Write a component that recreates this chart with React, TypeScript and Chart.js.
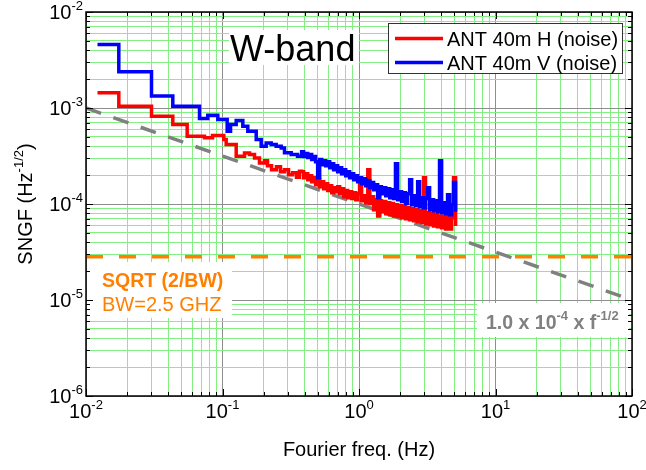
import React, { useEffect, useRef } from 'react';
import { Chart, registerables } from 'chart.js';

Chart.register(...registerables);

const FONT = "'Liberation Sans', Arial, sans-serif";

// ---------- Data ----------
// Low-frequency part, bin start frequencies (Hz) and SNGF values (Hz^-1/2)
const freqLowH = [0.01214, 0.01739, 0.03019, 0.04324, 0.0551, 0.0738, 0.0845, 0.1022, 0.1064, 0.126,
  0.145, 0.1577, 0.1716, 0.1866, 0.2031, 0.2137, 0.2286, 0.2486, 0.266, 0.2846, 0.3045, 0.3257, 0.3484, 0.366];
const sngfLowH = [1.44e-3, 1.04e-3, 8.21e-4, 6.73e-4, 5.08e-4, 4.89e-4, 5.16e-4, 4.69e-4, 4.16e-4, 3.14e-4,
  3.39e-4, 3.27e-4, 3.02e-4, 2.68e-4, 2.83e-4, 2.51e-4, 2.28e-4, 2.45e-4, 2.17e-4, 2.28e-4, 2.02e-4, 2.12e-4, 1.9e-4, 2.19e-4];

const freqLowV = [0.01214, 0.01739, 0.03019, 0.04324, 0.06785, 0.07802, 0.0924, 0.1082, 0.1145, 0.126,
  0.1409, 0.1532, 0.1766, 0.1921, 0.2089, 0.2274, 0.2473, 0.2692, 0.2846, 0.3187, 0.3544];
const sngfLowV = [4.6e-3, 2.39e-3, 1.33e-3, 1.04e-3, 7.77e-4, 8.41e-4, 7.59e-4, 5.73e-4, 6.73e-4, 7.41e-4,
  6.46e-4, 5.73e-4, 4.69e-4, 3.99e-4, 4.33e-4, 4.16e-4, 3.99e-4, 3.84e-4, 3.41e-4, 3.27e-4, 3.14e-4];

// High-frequency (noisy) part, shared frequency list
const freqHigh = [0.38, 0.393, 0.407, 0.421, 0.435, 0.45, 0.465, 0.481, 0.498, 0.515,
  0.533, 0.551, 0.57, 0.59, 0.61, 0.631, 0.652, 0.675, 0.698, 0.722,
  0.746, 0.772, 0.799, 0.826, 0.854, 0.884, 0.914, 0.945, 0.978, 1.01,
  1.045, 1.08, 1.12, 1.16, 1.2, 1.24, 1.28, 1.32, 1.37, 1.42,
  1.46, 1.51, 1.57, 1.62, 1.68, 1.73, 1.79, 1.85, 1.92, 1.98,
  2.05, 2.12, 2.19, 2.27, 2.35, 2.43, 2.51, 2.6, 2.69, 2.78,
  2.87, 2.97, 3.07, 3.18, 3.29, 3.4, 3.52, 3.64, 3.76, 3.89,
  4.03, 4.17, 4.31, 4.46, 4.61, 4.77, 4.93, 5.1];

const sngfHighV = [3.51e-4, 3.12e-4, 3.35e-4, 3.05e-4, 3.27e-4, 2.9e-4, 3.12e-4, 2.76e-4, 1.88e-4, 2.9e-4,
  2.57e-4, 2.83e-4, 2.51e-4, 2.76e-4, 2.39e-4, 2.63e-4, 2.28e-4, 2.51e-4, 2.17e-4, 2.39e-4,
  2.07e-4, 2.28e-4, 1.97e-4, 2.17e-4, 1.88e-4, 2.07e-4, 1.79e-4, 1.97e-4, 1.71e-4, 1.88e-4,
  1.63e-4, 1.83e-4, 1.55e-4, 1.75e-4, 1.48e-4, 1.67e-4, 1.41e-4, 1.59e-4, 1.16e-4, 1.51e-4,
  1.28e-4, 1.48e-4, 1.22e-4, 1.44e-4, 1.16e-4, 1.41e-4, 1.14e-4, 2.63e-4, 1.11e-4, 1.34e-4,
  1.06e-4, 1.31e-4, 1.01e-4, 1.28e-4, 1.79e-4, 9.83e-5, 1.22e-4, 9.6e-5, 1.71e-4, 9.37e-5,
  1.16e-4, 9.15e-5, 1.14e-4, 1.48e-4, 8.72e-5, 1.11e-4, 8.5e-5, 1.08e-4, 8.31e-5, 2.83e-4,
  8.1e-5, 1.03e-4, 7.9e-5, 1.25e-4, 7.73e-5, 9.83e-5, 1.67e-4, 8.31e-5];

const sngfHighH = [2.17e-4, 1.88e-4, 2.07e-4, 1.79e-4, 1.97e-4, 1.71e-4, 1.88e-4, 1.59e-4, 1.79e-4, 1.51e-4,
  1.71e-4, 1.44e-4, 1.63e-4, 1.38e-4, 1.55e-4, 1.31e-4, 1.48e-4, 1.34e-4, 1.51e-4, 1.28e-4,
  1.44e-4, 1.19e-4, 1.38e-4, 1.16e-4, 1.34e-4, 1.14e-4, 1.31e-4, 1.11e-4, 1.28e-4, 1.71e-4,
  1.08e-4, 1.22e-4, 1.03e-4, 2.28e-4, 1.01e-4, 1.19e-4, 8.72e-5, 1.11e-4, 7.5e-5, 1.08e-4,
  8.31e-5, 1.06e-4, 7.9e-5, 1.03e-4, 7.73e-5, 1.01e-4, 7.5e-5, 9.83e-5, 7.4e-5, 9.6e-5,
  7.19e-5, 9.37e-5, 7.0e-5, 9.15e-5, 6.86e-5, 8.9e-5, 6.7e-5, 8.72e-5, 6.53e-5, 8.5e-5,
  6.4e-5, 1.88e-4, 6.2e-5, 8.1e-5, 6.08e-5, 7.9e-5, 5.9e-5, 7.73e-5, 5.8e-5, 7.5e-5,
  5.66e-5, 7.4e-5, 5.5e-5, 1.25e-4, 5.5e-5, 7.19e-5, 1.88e-4, 5.9e-5];

// Reference lines
const fitCoef = 1.0e-4; // 1.0 x 10^-4 x f^-1/2
const fitRange = [0.01, 100];
const bandwidthHz = 2.5e9; // BW = 2.5 GHz
const sqrtLimit = Math.sqrt(2 / bandwidthHz);

// Axes
const xDecades = [0.01, 0.1, 1, 10];
const yDecades = [1e-6, 1e-5, 1e-4, 1e-3];
const mantissas = [1, 2, 3, 4, 5, 6, 7, 8, 9];
const xMax = 100;
const yMax = 1e-2;
const xTickValues = xDecades.flatMap((d) => mantissas.map((m) => m * d)).concat([xMax]);
const yTickValues = yDecades.flatMap((d) => mantissas.map((m) => m * d)).concat([yMax]);

const legendLabels = ['ANT 40m H (noise)', 'ANT 40m V (noise)'];
const seriesColors = ['#FF0000', '#0000FF'];

// ---------- helpers ----------
const isPow10 = (v: number) => {
  const l = Math.log10(v);
  return Math.abs(l - Math.round(l)) < 1e-6;
};

const toPoints = (fs: number[], vs: number[]) => fs.map((f, i) => ({ x: f, y: vs[i] }));

const GRID_MAJOR = '#8e8e8e';
const GRID_MINOR = '#84f084';
const ORANGE = '#FF8000';
const GRAY = '#808080';

type Piece = { t: string; size: number; bold?: boolean; dy?: number };

function drawPieces(ctx: CanvasRenderingContext2D, pieces: Piece[], x: number, y: number, align: 'left' | 'center' | 'right') {
  const widths = pieces.map((p) => {
    ctx.font = `${p.bold ? 'bold ' : ''}${p.size}px ${FONT}`;
    return ctx.measureText(p.t).width;
  });
  const total = widths.reduce((a, b) => a + b, 0);
  let cx = align === 'left' ? x : align === 'center' ? x - total / 2 : x - total;
  ctx.textAlign = 'left';
  ctx.textBaseline = 'alphabetic';
  pieces.forEach((p, i) => {
    ctx.font = `${p.bold ? 'bold ' : ''}${p.size}px ${FONT}`;
    ctx.fillText(p.t, cx, y + (p.dy || 0));
    cx += widths[i];
  });
}

const powPieces = (v: number): Piece[] => [
  { t: '10', size: 20 },
  { t: String(Math.round(Math.log10(v))), size: 13, dy: -9 },
];

const decorPlugin = {
  id: 'decor',
  beforeDatasetsDraw(chart: any) {
    const ctx: CanvasRenderingContext2D = chart.ctx;
    ctx.save();
    ctx.fillStyle = '#ffffff';
    // white backgrounds of text boxes (hide grid)
    ctx.fillRect(229, 30, 130, 35); // W-band
    ctx.fillRect(88, 262, 144, 56); // SQRT label
    ctx.fillRect(477, 303, 152, 34); // fit label
    ctx.restore();
  },
  afterDraw(chart: any) {
    const ctx: CanvasRenderingContext2D = chart.ctx;
    const { left, right, top, bottom } = chart.chartArea;
    const xs = chart.scales.x;
    const ys = chart.scales.y;
    ctx.save();

    // frame
    ctx.strokeStyle = '#000';
    ctx.lineWidth = 1.5;
    ctx.strokeRect(left, top, right - left, bottom - top);

    // inward ticks on all sides
    ctx.lineWidth = 1;
    ctx.beginPath();
    xTickValues.forEach((v) => {
      const px = Math.round(xs.getPixelForValue(v)) + 0.5;
      const len = isPow10(v) ? 7 : 4;
      ctx.moveTo(px, bottom);
      ctx.lineTo(px, bottom - len);
      ctx.moveTo(px, top);
      ctx.lineTo(px, top + len);
    });
    yTickValues.forEach((v) => {
      const py = Math.round(ys.getPixelForValue(v)) + 0.5;
      const len = isPow10(v) ? 7 : 4;
      ctx.moveTo(left, py);
      ctx.lineTo(left + len, py);
      ctx.moveTo(right, py);
      ctx.lineTo(right - len, py);
    });
    ctx.stroke();

    // tick labels
    ctx.fillStyle = '#000';
    xTickValues.filter(isPow10).forEach((v) => {
      drawPieces(ctx, powPieces(v), xs.getPixelForValue(v), bottom + 22, 'center');
    });
    yTickValues.filter(isPow10).forEach((v) => {
      drawPieces(ctx, powPieces(v), left - 3, ys.getPixelForValue(v) + 7, 'right');
    });

    // axis titles
    drawPieces(ctx, [{ t: 'Fourier freq. (Hz)', size: 20 }], (left + right) / 2, 456, 'center');
    ctx.save();
    ctx.translate(32, (top + bottom) / 2);
    ctx.rotate(-Math.PI / 2);
    drawPieces(ctx, [
      { t: 'SNGF (Hz', size: 20 },
      { t: '-1/2', size: 13, dy: -9 },
      { t: ')', size: 20 },
    ], 0, 0, 'center');
    ctx.restore();

    // W-band label
    ctx.fillStyle = '#000';
    drawPieces(ctx, [{ t: 'W-band', size: 36 }], 230, 61, 'left');

    // legend
    ctx.fillStyle = '#fff';
    ctx.fillRect(388, 23, 235, 51);
    ctx.strokeStyle = '#333';
    ctx.lineWidth = 1;
    ctx.strokeRect(388.5, 23.5, 234, 50);
    legendLabels.forEach((lab, i) => {
      const ly = 38.5 + i * 24;
      ctx.strokeStyle = seriesColors[i];
      ctx.lineWidth = 3.5;
      ctx.beginPath();
      ctx.moveTo(395, ly);
      ctx.lineTo(443, ly);
      ctx.stroke();
      ctx.fillStyle = '#000';
      drawPieces(ctx, [{ t: lab, size: 20 }], 447, 46 + i * 24, 'left');
    });

    // SQRT label
    ctx.fillStyle = ORANGE;
    drawPieces(ctx, [{ t: 'SQRT (2/BW)', size: 19.5, bold: true }], 102, 287, 'left');
    drawPieces(ctx, [{ t: 'BW=2.5 GHZ', size: 20 }], 102, 311, 'left');

    // fit label
    ctx.fillStyle = GRAY;
    drawPieces(ctx, [
      { t: '1.0 x 10', size: 19.5, bold: true },
      { t: '-4', size: 13, bold: true, dy: -9 },
      { t: ' x f', size: 19.5, bold: true },
      { t: '-1/2', size: 13, bold: true, dy: -9 },
    ], 486, 329, 'left');

    ctx.restore();
  },
};

const gridColor = (c: any) => (c.tick && isPow10(c.tick.value) ? GRID_MAJOR : GRID_MINOR);

export default function App() {
  const ref = useRef<HTMLCanvasElement | null>(null);

  useEffect(() => {
    if (!ref.current) return;
    const pointsH = toPoints(freqLowH.concat(freqHigh), sngfLowH.concat(sngfHighH));
    const pointsV = toPoints(freqLowV.concat(freqHigh), sngfLowV.concat(sngfHighV));
    const fitPts = fitRange.map((f) => ({ x: f, y: fitCoef * Math.pow(f, -0.5) }));
    const limPts = fitRange.map((f) => ({ x: f, y: sqrtLimit }));

    const chart = new Chart(ref.current, {
      type: 'line',
      data: {
        datasets: [
          {
            label: legendLabels[1], data: pointsV, borderColor: seriesColors[1], borderWidth: 3.5,
            stepped: 'before', pointRadius: 0, fill: false, order: 0, borderJoinStyle: 'miter',
          },
          {
            label: legendLabels[0], data: pointsH, borderColor: seriesColors[0], borderWidth: 3.5,
            stepped: 'before', pointRadius: 0, fill: false, order: 1, borderJoinStyle: 'miter',
          },
          {
            label: 'fit', data: fitPts, borderColor: GRAY, borderWidth: 3.5, borderDash: [16, 13],
            pointRadius: 0, fill: false, order: 2,
          },
          {
            label: 'limit', data: limPts, borderColor: ORANGE, borderWidth: 3.5, borderDash: [17, 16],
            pointRadius: 0, fill: false, order: 3,
          },
        ],
      } as any,
      options: {
        animation: false,
        responsive: false,
        devicePixelRatio: 1,
        layout: { padding: { left: 86, right: 14, top: 12, bottom: 74 } },
        plugins: { legend: { display: false }, tooltip: { enabled: false } },
        elements: { line: { tension: 0 } },
        scales: {
          x: {
            type: 'logarithmic', min: 0.01, max: 100,
            ticks: { display: false, autoSkip: false },
            grid: { color: gridColor, lineWidth: 1, drawTicks: false },
            border: { display: false },
            afterBuildTicks: (s: any) => { s.ticks = xTickValues.map((v) => ({ value: v, major: isPow10(v) })); },
          },
          y: {
            type: 'logarithmic', min: 1e-6, max: 1e-2,
            ticks: { display: false, autoSkip: false },
            grid: { color: gridColor, lineWidth: 1, drawTicks: false },
            border: { display: false },
            afterBuildTicks: (s: any) => { s.ticks = yTickValues.map((v) => ({ value: v, major: isPow10(v) })); },
          },
        },
      } as any,
      plugins: [decorPlugin],
    });
    return () => chart.destroy();
  }, []);

  return (
    <div style={{ position: 'fixed', left: 0, top: 0, width: 646, height: 470, background: '#fff' }}>
      <canvas ref={ref} width={646} height={470} style={{ display: 'block' }} />
    </div>
  );
}
